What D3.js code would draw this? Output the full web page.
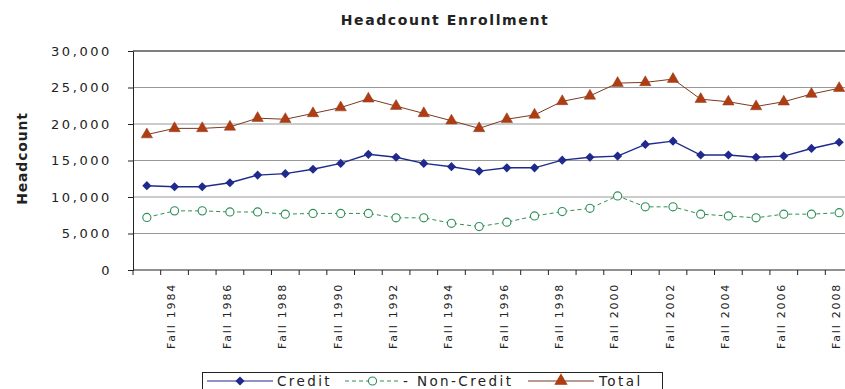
<!DOCTYPE html>
<html>
<head>
<meta charset="utf-8">
<script src="https://cdn.jsdelivr.net/npm/d3@7"></script>
<style>
  body { margin: 0; background: #fff; }
  svg { display: block; font-family: "DejaVu Sans", Verdana, sans-serif; }
</style>
</head>
<body>
<div id="chart"></div>
<script>
// data
const years = d3.range(1983, 2009);
const credit = [11550, 11400, 11400, 11950, 13000, 13200, 13800, 14600, 15850, 15450, 14600, 14150, 13550,
                14000, 14000, 15050, 15450, 15600, 17200, 17650, 15750, 15750, 15450, 15600, 16650, 17500];
const nonCredit = [7200, 8100, 8100, 7950, 7950, 7650, 7750, 7750, 7750, 7150, 7150, 6400, 5950,
                   6550, 7400, 8000, 8450, 10150, 8650, 8650, 7650, 7400, 7150, 7650, 7650, 7850];
const total = [18550, 19400, 19400, 19600, 20800, 20650, 21450, 22250, 23450, 22450, 21450, 20450, 19400,
               20650, 21250, 23100, 23850, 25600, 25700, 26150, 23400, 23050, 22400, 23050, 24100, 24900];
const yTicks = [0, 5000, 10000, 15000, 20000, 25000, 30000];

const width = 845, height = 389;
const margin = {top: 51, right: -8, bottom: 119, left: 133};

const svg = d3.select('#chart').append('svg')
  .attr('width', width)
  .attr('height', height);

const x = d3.scaleBand()
  .domain(years)
  .range([margin.left, width - margin.right]);

const y = d3.scaleLinear()
  .domain([0, 30000])
  .range([height - margin.bottom, margin.top]);

// title
svg.append('text')
  .attr('x', 445)
  .attr('y', 25)
  .attr('text-anchor', 'middle')
  .attr('font-size', 14)
  .attr('font-weight', 'bold')
  .attr('letter-spacing', 1.6)
  .attr('fill', '#222')
  .text('Headcount Enrollment');

// y title
svg.append('text')
  .attr('transform', `translate(27 ${(y(0) + y(30000)) / 2 - 2}) rotate(-90)`)
  .attr('text-anchor', 'middle')
  .attr('font-size', 14)
  .attr('font-weight', 'bold')
  .attr('letter-spacing', 0.8)
  .attr('fill', '#222')
  .text('Headcount');

// gridlines
svg.append('g')
  .selectAll('line')
  .data(yTicks.slice(1))
  .join('line')
  .attr('x1', margin.left)
  .attr('x2', width)
  .attr('y1', d => y(d))
  .attr('y2', d => y(d))
  .attr('stroke', d => d === 30000 ? '#555' : '#999')
  .attr('stroke-width', d => d === 30000 ? 1.6 : 1);

// y axis
const yAxis = svg.append('g')
  .attr('transform', `translate(${margin.left} 0)`)
  .call(d3.axisLeft(y).tickValues(yTicks).tickFormat(d3.format(',')).tickSize(5).tickPadding(16));
yAxis.select('.domain').attr('stroke', '#222');
yAxis.selectAll('.tick line').attr('stroke', '#222');
yAxis.selectAll('text')
  .attr('font-size', 13)
  .attr('letter-spacing', 2.6)
  .attr('font-family', '"DejaVu Sans", sans-serif')
  .attr('fill', '#222');

// x axis line and boundary ticks
const step = x.step();
svg.append('line')
  .attr('x1', margin.left).attr('x2', width)
  .attr('y1', y(0)).attr('y2', y(0))
  .attr('stroke', '#222');
svg.append('g')
  .selectAll('line')
  .data(years)
  .join('line')
  .attr('x1', d => x(d))
  .attr('x2', d => x(d))
  .attr('y1', y(0))
  .attr('y2', y(0) + 5)
  .attr('stroke', '#222');

// x labels (every other year)
svg.append('g')
  .selectAll('text')
  .data(years.filter(d => d % 2 === 0))
  .join('text')
  .attr('transform', d => `translate(${x(d) + step / 2 - 3} ${y(0) + 13}) rotate(-90)`)
  .attr('dy', '0.35em')
  .attr('text-anchor', 'end')
  .attr('font-size', 11)
  .attr('letter-spacing', 1.8)
  .attr('fill', '#222')
  .text(d => 'Fall ' + d);

const cx = d => x(d) + step / 2;

function drawSeries(values, color, dash, width) {
  const line = d3.line()
    .x((v, i) => cx(years[i]))
    .y(v => y(v));
  svg.append('path')
    .datum(values)
    .attr('fill', 'none')
    .attr('stroke', color)
    .attr('stroke-width', width)
    .attr('stroke-dasharray', dash)
    .attr('d', line);
}

const cCredit = '#1f2a8c', cNon = '#2e8f57', cTotal = '#b03d12';

drawSeries(total, '#7a3a20', null, 1);
drawSeries(credit, cCredit, null, 1.4);
drawSeries(nonCredit, cNon, '4,3', 1);

// square turned 45 degrees gives the wide diamond of the original
const diamond = d3.symbol().type(d3.symbolSquare).size(42);
const triangle = d3.symbol().type(d3.symbolTriangle).size(56);
const circle = d3.symbol().type(d3.symbolCircle).size(52);

svg.append('g').selectAll('path')
  .data(total)
  .join('path')
  .attr('transform', (v, i) => `translate(${cx(years[i])} ${y(v)})`)
  .attr('d', triangle)
  .attr('fill', cTotal)
  .attr('stroke', '#8a3a1c')
  .attr('stroke-width', 0.5);

svg.append('g').selectAll('path')
  .data(credit)
  .join('path')
  .attr('transform', (v, i) => `translate(${cx(years[i])} ${y(v)}) rotate(45)`)
  .attr('d', diamond)
  .attr('fill', cCredit);

svg.append('g').selectAll('path')
  .data(nonCredit)
  .join('path')
  .attr('transform', (v, i) => `translate(${cx(years[i])} ${y(v)})`)
  .attr('d', circle)
  .attr('fill', '#fff')
  .attr('stroke', cNon)
  .attr('stroke-width', 1.1);

// legend
const legend = svg.append('g');
legend.append('rect')
  .attr('x', 202.5).attr('y', 372.5)
  .attr('width', 460).attr('height', 30)
  .attr('fill', '#fff')
  .attr('stroke', '#222');

const legendItems = [
  {name: 'Credit', color: cCredit, lineColor: cCredit, dash: null, sym: diamond, rot: 45, fill: cCredit, x0: 207, x1: 273, tx: 277},
  {name: '- Non-Credit', color: cNon, lineColor: cNon, dash: '4,3', sym: circle, rot: 0, fill: '#fff', x0: 345, x1: 400, tx: 403},
  {name: 'Total', color: cTotal, lineColor: '#7a3a20', dash: null, sym: triangle, rot: 0, fill: cTotal, x0: 528, x1: 594, tx: 599}
];

legendItems.forEach(it => {
  legend.append('line')
    .attr('x1', it.x0).attr('x2', it.x1)
    .attr('y1', 381).attr('y2', 381)
    .attr('stroke', it.lineColor)
    .attr('stroke-width', 1.2)
    .attr('stroke-dasharray', it.dash);
  legend.append('path')
    .attr('transform', `translate(${(it.x0 + it.x1) / 2} 381) rotate(${it.rot})`)
    .attr('d', it.sym)
    .attr('fill', it.fill)
    .attr('stroke', it.name === 'Credit' ? 'none' : it.color)
    .attr('stroke-width', 1.1);
  legend.append('text')
    .attr('x', it.tx)
    .attr('y', 381)
    .attr('dy', '0.35em')
    .attr('font-size', 13.5)
    .attr('letter-spacing', 2.4)
    .attr('fill', '#222')
    .text(it.name);
});
</script>
</body>
</html>
